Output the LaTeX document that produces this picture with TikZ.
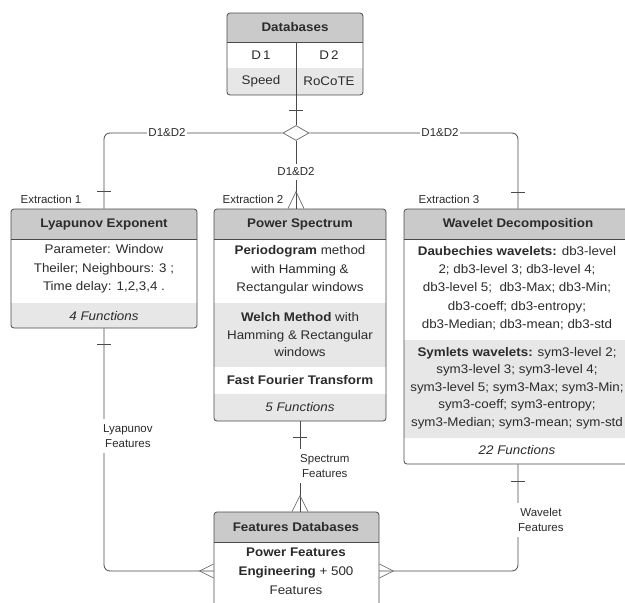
\documentclass[tikz,border=0pt]{standalone}
\usepackage{fontspec}
\setmainfont{Liberation Sans}[FakeStretch=1.07]
\newfontfamily\plainf{Liberation Sans}
\usetikzlibrary{shapes.geometric,calc,fit}
\definecolor{hdr}{HTML}{CACACA}
\definecolor{rowg}{HTML}{E7E7E7}
\definecolor{ln}{HTML}{4A4A4A}
\definecolor{txt}{HTML}{2B2B2B}
\newcommand\erbox[6]{%
  \fill[hdr] (#2,#6) [rounded corners=3pt] -- (#2,#3) -- (#4,#3) [sharp corners] -- (#4,#6) -- cycle;
  \node[fit={(#2,#3) (#4,#5)}, draw=ln, line width=0.8pt, rounded corners=3pt, inner sep=0pt] (#1) {};
  \draw[ln, line width=0.8pt] (#2,#6) -- (#4,#6);
}
\newcommand\botrow[4]{% L top R B
  \fill[rowg] (#1,#2) [rounded corners=3pt] -- (#1,#4) -- (#3,#4) [sharp corners] -- (#3,#2) -- cycle;
}
\begin{document}
\begin{tikzpicture}[x=1pt,y=-1pt,
  font=\fontsize{12.5}{18}\selectfont, text=txt,
  conn/.style={draw=ln, line width=0.8pt},
  foot/.style={draw=ln!80, line width=0.7pt},
  lbl/.style={font=\plainf\fontsize{11.5}{15.5}\selectfont, fill=white, inner sep=1pt, align=center},
  hd/.style={font=\bfseries\fontsize{12.5}{15}\selectfont},
  tx/.style={align=center, inner sep=0pt}
]
\useasboundingbox (0,0) rectangle (625,603);
\fill[white] (0,0) rectangle (625,603);
\clip (0,0) rectangle (625,603);

% ---------- fills ----------
\fill[rowg] (227,68) -- (227,95) -- (363,95) -- (363,68) -- cycle;
\botrow{11}{303}{197}{328}
\fill[rowg] (214,303) rectangle (386,367);
\botrow{214}{394}{386}{421}
\fill[rowg] (404,340) rectangle (632,438);

% ---------- boxes ----------
\erbox{db}{227}{13}{363}{95}{42}
\draw[ln, line width=0.8pt] (296,42) -- (296,95);
\erbox{lyap}{11}{209}{197}{328}{239}
\erbox{ps}{214}{209}{386}{421}{239}
\erbox{wd}{404}{209}{632}{464}{239}
\erbox{fdb}{214}{512}{379}{630}{542}

% ---------- texts ----------
\node[hd] at (295,27) {Databases};
\node[tx] at (261,55) {D\,1};
\node[tx] at (329,55) {D\,2};
\node[tx] at (261,81) {Speed};
\node[tx] at (329,81) {RoCoTE};

\node[hd] at (104,224) {Lyapunov Exponent};
\node[tx, font=\fontsize{12.5}{18.5}\selectfont] at (104,269) {Parameter: Window\\Theiler; Neighbours: 3 ;\\Time delay: 1,2,3,4 .};
\node[tx] at (104,316) {\itshape 4 Functions};

\node[hd] at (300,224) {Power Spectrum};
\node[tx, font=\fontsize{12.5}{18.5}\selectfont] at (300,270) {\textbf{Periodogram} method\\with Hamming \&\\Rectangular windows};
\node[tx, font=\fontsize{12.5}{17.5}\selectfont] at (300,335) {\textbf{Welch Method} with\\Hamming \& Rectangular\\windows};
\node[tx] at (300,380) {\textbf{Fast Fourier Transform}};
\node[tx] at (300,407) {\itshape 5 Functions};

\node[hd] at (518,224) {Wavelet Decomposition};
\node[tx, font=\fontsize{12.5}{18.3}\selectfont] at (517,288) {\textbf{Daubechies wavelets:} db3-level\\2; db3-level 3; db3-level 4;\\db3-level 5;\ \ db3-Max; db3-Min;\\db3-coeff; db3-entropy;\\db3-Median; db3-mean; db3-std};
\node[tx, font=\fontsize{12.5}{17.6}\selectfont] at (517,388) {\textbf{Symlets wavelets:} sym3-level 2;\\sym3-level 3; sym3-level 4;\\sym3-level 5; sym3-Max; sym3-Min;\\sym3-coeff; sym3-entropy;\\sym3-Median; sym3-mean; sym-std};
\node[tx] at (517,450) {\itshape 22 Functions};

\node[hd] at (296,527) {Features Databases};
\node[tx, font=\fontsize{12.5}{19}\selectfont] at (296,571) {\textbf{Power Features}\\\textbf{Engineering} + 500\\Features};

% ---------- connectors ----------
\node[diamond, draw=ln!75, fill=white, line width=0.8pt, minimum width=26pt, minimum height=15pt, inner sep=0pt] (dia) at (296,133) {};
\draw[conn] (dia |- db.south) -- (dia.north);
\draw[conn, rounded corners=6pt] (dia.west) -| (lyap.north);
\draw[conn, rounded corners=6pt] (dia.east) -| (wd.north);
\draw[conn] (dia.south) -- (dia |- ps.north);
\draw[conn, rounded corners=6pt] (lyap.south) |- (fdb.west);
\draw[conn, rounded corners=6pt] (wd.south) |- (fdb.east);
\draw[conn] (ps.south) -- (ps.south |- fdb.north);

% ticks
\draw[conn] ($(dia |- db.south)+(-7,15)$) -- ($(dia |- db.south)+(7,15)$);
\draw[conn] ($(lyap.north)+(-7,-17)$) -- ($(lyap.north)+(7,-17)$);
\draw[conn] ($(lyap.south)+(-7,16)$) -- ($(lyap.south)+(7,16)$);
\draw[conn] ($(ps.south)+(-7,16)$) -- ($(ps.south)+(7,16)$);
\draw[conn] ($(wd.north)+(-7,-16)$) -- ($(wd.north)+(7,-16)$);
\draw[conn] ($(wd.south)+(-7,17)$) -- ($(wd.south)+(7,17)$);

% crow's feet
\draw[foot] ($(dia |- ps.north)+(-8,0)$) -- ($(dia |- ps.north)+(0,-17)$) -- ($(dia |- ps.north)+(8,0)$);
\draw[foot] ($(ps.south |- fdb.north)+(-8,0)$) -- ($(ps.south |- fdb.north)+(0,-16)$) -- ($(ps.south |- fdb.north)+(8,0)$);
\draw[foot] ($(fdb.west)+(0,-7)$) -- ($(fdb.west)+(-14,0)$) -- ($(fdb.west)+(0,7)$);
\draw[foot] ($(fdb.east)+(0,-7)$) -- ($(fdb.east)+(14,0)$) -- ($(fdb.east)+(0,7)$);

% ---------- labels ----------
\node[lbl] at (167,133) {D1\&D2};
\node[lbl] at (440,133) {D1\&D2};
\node[lbl, inner ysep=4pt] at (296,172) {D1\&D2};
\node[lbl, fill=none] at (51,199) {Extraction 1};
\node[lbl, fill=none] at (253,199) {Extraction 2};
\node[lbl, fill=none] at (449,199) {Extraction 3};
\node[lbl, anchor=west, inner ysep=5pt] at (102,436) {Lyapunov\\Features};
\node[lbl, anchor=west, inner ysep=5pt] at (299,466) {Spectrum\\Features};
\node[lbl, anchor=west, inner ysep=5pt] at (517,520) {Wavelet\\Features};
\end{tikzpicture}
\end{document}
